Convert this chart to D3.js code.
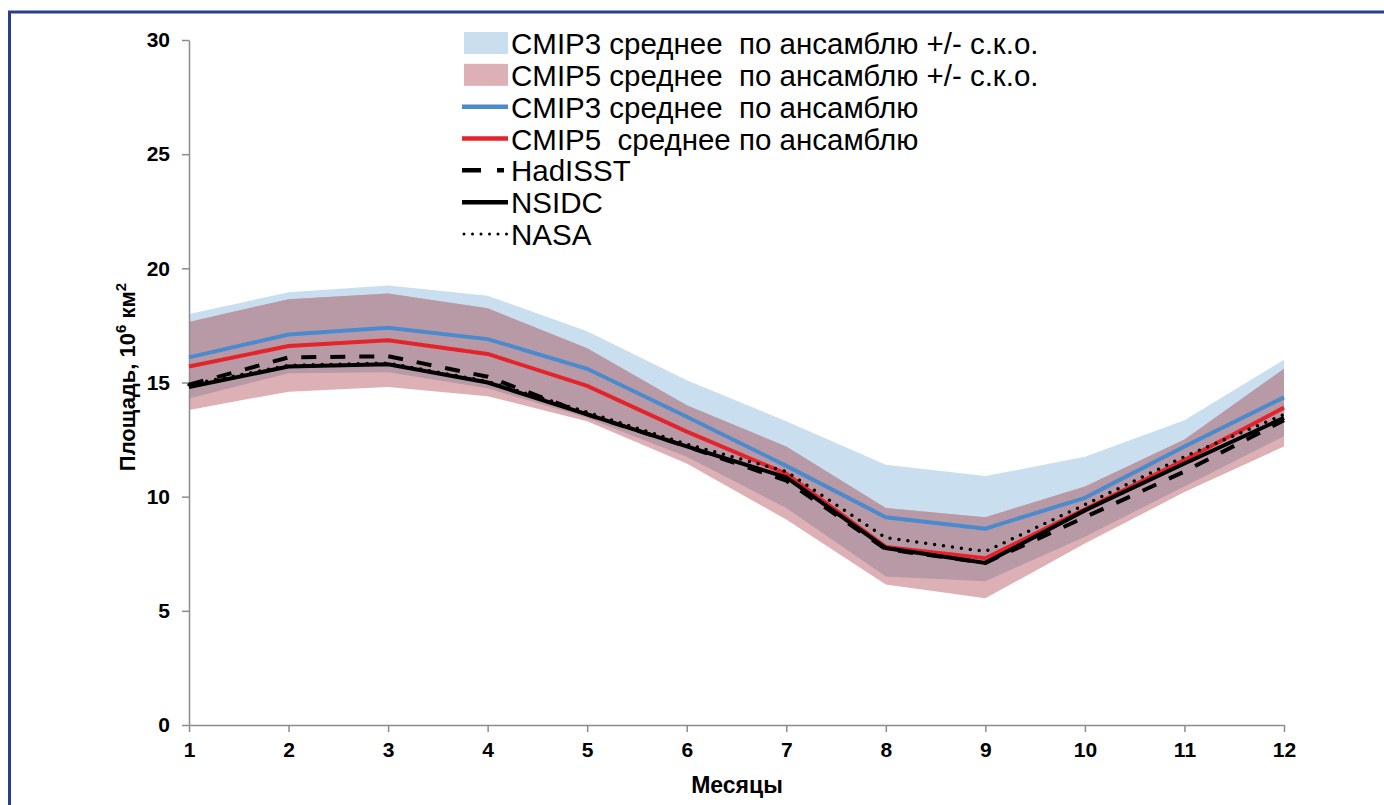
<!DOCTYPE html>
<html>
<head>
<meta charset="utf-8">
<script src="https://cdn.jsdelivr.net/npm/d3@7"></script>
<style>
  body { margin: 0; background: #fff; }
  svg { display: block; font-family: "Liberation Sans", Arial, sans-serif; }
  .axis path, .axis line { stroke: #8c8c8c; stroke-width: 1.5; }
  .axis text { font-size: 21px; font-weight: bold; fill: #000; font-family: "Liberation Sans", Arial, sans-serif; }
</style>
</head>
<body>
<script>
// Width and height
var w = 1384;
var h = 805;

// data (10^6 km2 by month)
var months = [1, 2, 3, 4, 5, 6, 7, 8, 9, 10, 11, 12];
var cmip3Mean = [16.1, 17.1, 17.4, 16.9, 15.6, 13.5, 11.35, 9.1, 8.6, 9.95, 12.2, 14.35];
var cmip5Mean = [15.7, 16.6, 16.85, 16.25, 14.85, 12.85, 11.0, 7.8, 7.3, 9.45, 11.6, 13.9];
var cmip3Upper = [18.0, 18.95, 19.25, 18.8, 17.25, 15.1, 13.3, 11.4, 10.9, 11.75, 13.35, 16.0];
var cmip3Lower = [14.3, 15.4, 15.45, 14.75, 13.45, 11.75, 9.5, 6.5, 6.3, 8.25, 10.45, 12.65];
var cmip5Upper = [17.65, 18.65, 18.9, 18.25, 16.5, 14.0, 12.2, 9.5, 9.1, 10.45, 12.5, 15.6];
var cmip5Lower = [13.8, 14.6, 14.8, 14.4, 13.3, 11.45, 9.0, 6.15, 5.55, 7.95, 10.2, 12.2];
var hadisst = [14.9, 16.1, 16.15, 15.25, 13.6, 12.2, 10.7, 7.7, 7.1, 9.1, 11.1, 13.35];
var nsidc = [14.8, 15.7, 15.8, 15.0, 13.6, 12.2, 10.85, 7.75, 7.1, 9.4, 11.45, 13.45];
var nasa = [14.9, 15.75, 15.85, 15.05, 13.7, 12.3, 11.1, 8.2, 7.6, 9.65, 11.75, 13.6];
var yTicks = [0, 5, 10, 15, 20, 25, 30];

var legendItems = [
    {label: "CMIP3 среднее  по ансамблю +/- с.к.о.", kind: "band", color: "#c9dff0"},
    {label: "CMIP5 среднее  по ансамблю +/- с.к.о.", kind: "band", color: "#dcb0b4"},
    {label: "CMIP3 среднее  по ансамблю", kind: "line", color: "#4a8acd"},
    {label: "CMIP5  среднее по ансамблю", kind: "line", color: "#e3242b"},
    {label: "HadISST", kind: "dash", color: "#000"},
    {label: "NSIDC", kind: "line", color: "#000"},
    {label: "NASA", kind: "dot", color: "#000"}
];

var svg = d3.select("body").append("svg")
    .attr("width", w)
    .attr("height", h);

// blue frame, open on the right and bottom
svg.append("rect")
    .attr("x", 9.5)
    .attr("y", 12)
    .attr("width", w + 20)
    .attr("height", h + 20)
    .style("fill", "none")
    .style("stroke", "#2c3f8f")
    .style("stroke-width", 3);

var x = d3.scaleLinear().domain([1, 12]).range([189, 1284]);
var y = d3.scaleLinear().domain([0, 30]).range([725, 40]);

var idx = d3.range(months.length);

function band(lo, hi) {
    return d3.area()
        .x(i => x(months[i]))
        .y0(i => y(lo(i)))
        .y1(i => y(hi(i)));
}

// bands: CMIP3, CMIP5, then their overlap
svg.append("path")
    .attr("d", band(i => cmip3Lower[i], i => cmip3Upper[i])(idx))
    .style("fill", "#c9dff0");
svg.append("path")
    .attr("d", band(i => cmip5Lower[i], i => cmip5Upper[i])(idx))
    .style("fill", "#dcb0b4");
svg.append("path")
    .attr("d", band(i => Math.max(cmip3Lower[i], cmip5Lower[i]), i => Math.min(cmip3Upper[i], cmip5Upper[i]))(idx))
    .style("fill", "#b89aa6");

// Axes
var yAxis = d3.axisLeft(y).tickValues(yTicks).tickSize(7).tickPadding(12).tickSizeOuter(0);
var xAxis = d3.axisBottom(x).tickValues(months).tickSize(7).tickPadding(10).tickSizeOuter(0)
    .tickFormat(d3.format("d"));

svg.append("g")
    .attr("class", "axis axis--y")
    .attr("transform", "translate(189, 0)")
    .call(yAxis);

svg.append("g")
    .attr("class", "axis axis--x")
    .attr("transform", "translate(0, 725)")
    .call(xAxis);

// series lines
function lineOf(vals) {
    return d3.line().x((d, i) => x(months[i])).y(d => y(d))(vals);
}

svg.append("path").attr("d", lineOf(cmip3Mean))
    .style("fill", "none").style("stroke", "#4a8acd").style("stroke-width", 4);
svg.append("path").attr("d", lineOf(cmip5Mean))
    .style("fill", "none").style("stroke", "#e3242b").style("stroke-width", 4);
svg.append("path").attr("d", lineOf(hadisst))
    .style("fill", "none").style("stroke", "#000").style("stroke-width", 4)
    .style("stroke-dasharray", "15,14");
svg.append("path").attr("d", lineOf(nsidc))
    .style("fill", "none").style("stroke", "#000").style("stroke-width", 4);
svg.append("path").attr("d", lineOf(nasa))
    .style("fill", "none").style("stroke", "#000").style("stroke-width", 3.5)
    .style("stroke-linecap", "round").style("stroke-dasharray", "0,9");

// axis titles
svg.append("text")
    .attr("x", 737)
    .attr("y", 793)
    .attr("text-anchor", "middle")
    .attr("font-size", "23px")
    .attr("font-weight", "bold")
    .text("Месяцы");

var yt = svg.append("text")
    .attr("transform", "translate(135, 377) rotate(-90)")
    .attr("text-anchor", "middle")
    .attr("font-size", "22px")
    .attr("font-weight", "bold");
yt.append("tspan").text("Площадь, 10");
yt.append("tspan").attr("font-size", "15px").attr("dy", -9).text("6");
yt.append("tspan").attr("dy", 9).text(" км");
yt.append("tspan").attr("font-size", "15px").attr("dy", -9).text("2");

// Legend
var legend = svg.append("g").attr("id", "legend");
var rowY = d3.scaleLinear().domain([0, 6]).range([54, 245]);

legendItems.forEach((d, i) => {
    var base = rowY(i);
    var cy = base - 11;
    if (d.kind === "band") {
        legend.append("rect")
            .attr("x", 464).attr("y", cy - 11)
            .attr("width", 44).attr("height", 22)
            .style("fill", d.color);
    } else {
        var ln = legend.append("line")
            .attr("x1", d.kind === "dot" ? 464 : 462).attr("x2", d.kind === "dash" ? 504 : 508)
            .attr("y1", cy).attr("y2", cy)
            .style("stroke", d.color)
            .style("stroke-width", d.kind === "dot" ? 3 : 4.5);
        if (d.kind === "dash") ln.style("stroke-dasharray", "19,16");
        if (d.kind === "dot") ln.style("stroke-linecap", "round").style("stroke-dasharray", "0,8.5");
    }
    legend.append("text")
        .attr("x", 511)
        .attr("y", base)
        .attr("font-size", "29.5px")
        .style("white-space", "pre")
        .text(d.label);
});
</script>
</body>
</html>
